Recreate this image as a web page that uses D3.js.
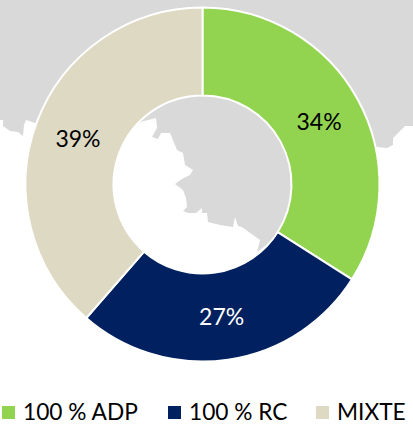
<!DOCTYPE html>
<html><head><meta charset="utf-8">
<script src="https://cdnjs.cloudflare.com/ajax/libs/d3/7.8.5/d3.min.js"></script>
<style>html,body{margin:0;padding:0;background:#fff}svg{display:block}text{font-family:Lato,"Open Sans",sans-serif}</style>
</head><body><svg id="c" width="413" height="432"></svg>
<script>
const categories = ["100 % ADP", "100 % RC", "MIXTE"];
const values = [34, 27.4, 38.6];
const labels = ["34%", "27%", "39%"];
const colors = ["#92D450", "#002060", "#DDD9C3"];
const labelColors = ["#000", "#fff", "#000"];
const legendSwatchX = [2, 168, 316];
const legendTextX = [23, 189, 337];
const mapOutline = [[0,0],[413,0],[413,126],[405,126],[399,132],[393,138],[393,145],[387,148],[377,147],
 [300,220],[257,252],[260,240],[253,235],[242,227],[238,226],[235,217],[233,227],[220,225],[208,222],[207,213],
 [202,213],[202,208],[196,213],[188,213],[183,211],[187,207],[186,198],[183,190],[175,184],[182,179],[190,175],
 [193,170],[185,165],[183,153],[177,150],[170,133],[161,133],[158,139],[152,137],[157,128],[156,118],[144,121],
 [90,140],[35,123],[26,120],[24,125],[23,136],[18,132],[10,131],[3,126],[3,120],[0,120]];

const svg = d3.select("#c");
svg.append("path").attr("d", d3.line()(mapOutline) + "Z").attr("fill", "#D9D9D9");

const cx = 202.5, cy = 184.5, outer = 177, inner = 89;
const pie = d3.pie().sort(null).value(d => d)(values);
const arc = d3.arc().innerRadius(inner).outerRadius(outer);
const g = svg.append("g").attr("transform", `translate(${cx},${cy})`);
g.selectAll("path.s").data(pie).join("path").attr("class", "s")
  .attr("d", arc).attr("fill", (d, i) => colors[i])
  .attr("stroke", "#fff").attr("stroke-width", 2);
g.selectAll("text").data(pie).join("text")
  .attr("transform", d => `translate(${arc.centroid(d)})`)
  .attr("text-anchor", "middle").attr("dy", "0.4em")
  .attr("font-size", 23).attr("fill", (d, i) => labelColors[i])
  .text((d, i) => labels[i]);

const lg = svg.append("g");
lg.selectAll("rect").data(categories).join("rect")
  .attr("x", (d, i) => legendSwatchX[i]).attr("y", 406).attr("width", 13).attr("height", 13)
  .attr("fill", (d, i) => colors[i]);
lg.selectAll("text").data(categories).join("text")
  .attr("x", (d, i) => legendTextX[i]).attr("y", 420)
  .attr("font-size", 22.7).attr("fill", "#000").text(d => d);
</script></body></html>
